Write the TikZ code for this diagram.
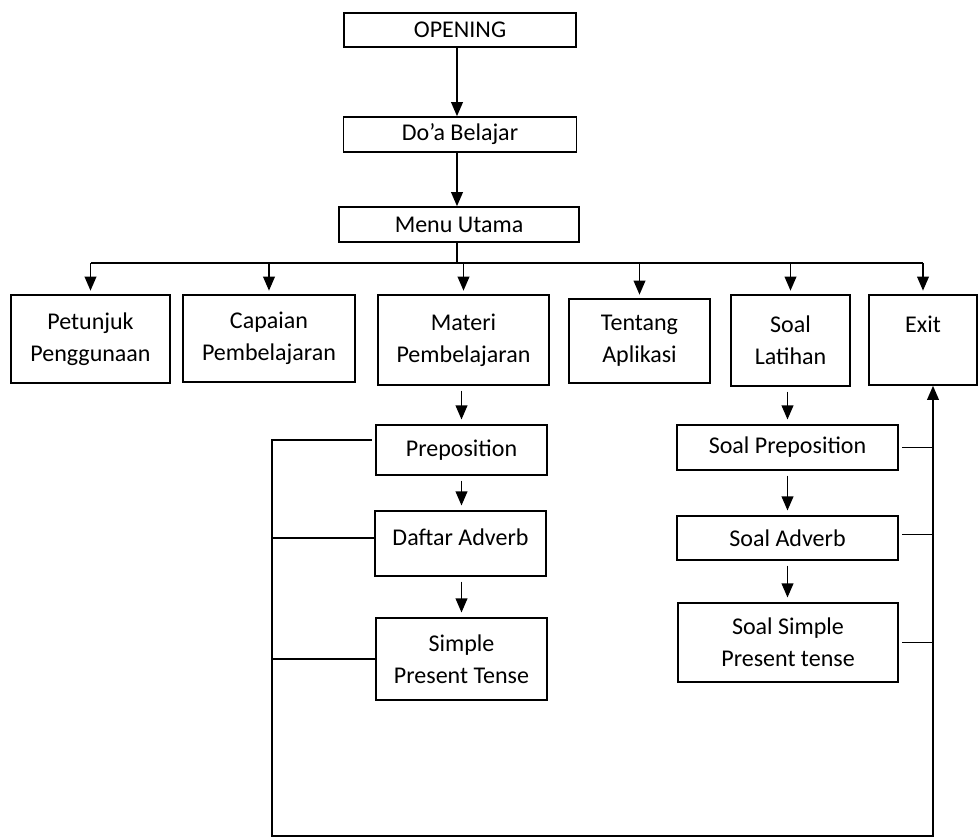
\documentclass[tikz,border=0pt]{standalone}
\usepackage{fontspec}
\setmainfont{Carlito}
\usetikzlibrary{arrows.meta}

\tikzset{
  box/.style={draw, line width=1.4pt, align=center, inner sep=0pt, font=\fontsize{20.5}{27.5}\selectfont},
  sz/.style 2 args={minimum width=#1*0.03cm, minimum height=#2*0.03cm},
  arr/.style={line width=1.3pt, -{Triangle[length=12pt,width=10pt]}},
  ln/.style={line width=1.3pt}
}

\begin{document}
\begin{tikzpicture}[x=0.03cm,y=-0.03cm]
	\useasboundingbox (0,0) rectangle (979,838);
	% top chain
	\node[box,sz={232}{34}] (opening) at (460,30) {OPENING};
	\node[box,sz={233}{35}] (doa) at (460,134.5) {Do’a Belajar};
	\node[box,sz={240}{35}] (menu) at (459,224.5) {Menu Utama};
	\draw[arr] (opening.south -| 457,0) -- (doa.north -| 457,0);
	\draw[arr] (doa.south -| 457,0) -- (menu.north -| 457,0);
	% menu row
	\node[box,sz={159}{88}] (petunjuk) at (90.5,339) {Petunjuk\\Penggunaan};
	\node[box,sz={172}{87}] (capaian) at (269,338.5) {Capaian\\Pembelajaran};
	\node[box,sz={171}{90}] (materi) at (463.5,340) {Materi\\Pembelajaran};
	\node[box,sz={141}{84}] (tentang) at (639.5,341) {Tentang\\Aplikasi};
	\node[box,sz={119}{91}] (latihan) at (790.5,340.5) {Soal\\Latihan};
	\node[box,sz={108}{90}] (exit) at (923,340) {Exit\\\mbox{}};
	\coordinate (bus) at (457,263);
	\draw[ln] (menu.south -| bus) -- (bus);
	\draw[ln] (petunjuk.north |- bus) -- (exit.north |- bus);
	\foreach \n in {petunjuk,capaian,materi,tentang,latihan,exit}
		\draw[arr,shorten >=3pt] (\n.north |- bus) -- (\n.north);
	% materi
	\node[box,sz={171}{50}] (prep) at (461.5,450) {Preposition};
	\node[box,sz={171}{65}] (adverb) at (460.5,543.5) {Daftar Adverb\\[-16pt]\mbox{}};
	\node[box,sz={171}{82}] (simple) at (461.5,659) {Simple\\Present Tense};
	\draw[arr,shorten <=4pt,shorten >=4pt] (materi.south -| prep) -- (prep.north);
	\draw[arr,shorten <=4pt,shorten >=4pt] (prep.south) -- (adverb.north -| prep);
	\draw[arr,shorten <=4pt,shorten >=4pt] (adverb.south -| prep) -- (simple.north);
	% soal
	\node[box,sz={221}{45}] (sprep) at (787.5,447.5) {Soal Preposition};
	\node[box,sz={221}{44}] (sadverb) at (787.5,538) {Soal Adverb};
	\node[box,sz={220}{79}] (ssimple) at (788,642.5) {Soal Simple\\Present tense};
	\draw[arr,shorten <=4pt,shorten >=4pt] (latihan.south -| sprep) -- (sprep.north);
	\draw[arr,shorten <=4pt,shorten >=4pt] (sprep.south) -- (sadverb.north);
	\draw[arr,shorten <=4pt,shorten >=4pt] (sadverb.south) -- (ssimple.north -| sadverb);
	% back to exit
	\coordinate (lb) at (272,836);
	\coordinate (rb) at (933,836);
	\draw[arr] ([yshift=8.5pt,xshift=-3pt]prep.west) -| (lb) -- (rb) -- (rb |- exit.south);
	\draw[ln] ([yshift=4.5pt]adverb.west) -- ([yshift=4.5pt]adverb.west -| lb);
	\draw[ln] (simple.west) -- (simple.west -| lb);
	\draw[ln] ([xshift=3pt]sprep.east) -- (sprep.east -| rb);
	\draw[ln] ([xshift=3pt,yshift=3pt]sadverb.east) -- ([yshift=3pt]sadverb.east -| rb);
	\draw[ln] ([xshift=3pt]ssimple.east) -- (ssimple.east -| rb);
\end{tikzpicture}
\end{document}
